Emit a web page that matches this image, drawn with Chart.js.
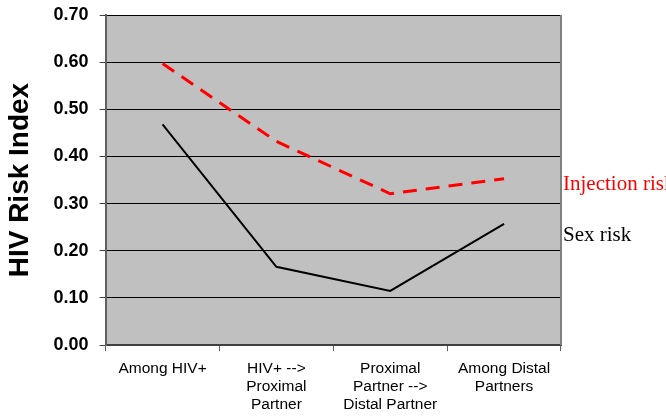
<!DOCTYPE html>
<html>
<head>
<meta charset="utf-8">
<script src="https://cdn.jsdelivr.net/npm/chart.js@4.4.0/dist/chart.umd.min.js"></script>
<style>
  body { margin: 0; background: #fff; }
  #wrap { width: 666px; height: 416px; }
</style>
</head>
<body>
<div id="wrap"><canvas id="graphique" width="666" height="416"></canvas></div>
<script>
// categories (multi-line labels)
const categories = [
  ["Among HIV+"],
  ["HIV+ -->", "Proximal", "Partner"],
  ["Proximal", "Partner -->", "Distal Partner"],
  ["Among Distal", "Partners"]
];
const injectionRisk = [0.597, 0.432, 0.321, 0.353];
const sexRisk = [0.468, 0.166, 0.115, 0.257];
const seriesNames = ["Injection risk", "Sex risk"];

// fond gris de la zone de tracé + bordure
const fondGris = {
  id: "fondGris",
  beforeDraw(chart) {
    const { ctx, chartArea: a } = chart;
    ctx.save();
    ctx.fillStyle = "#C0C0C0";
    ctx.fillRect(a.left, a.top, a.right - a.left, a.bottom - a.top);
    ctx.restore();
  },
  afterDraw(chart) {
    const { ctx, chartArea: a } = chart;
    ctx.save();
    ctx.strokeStyle = "#808080";
    ctx.lineWidth = 2;
    ctx.beginPath();
    ctx.moveTo(a.right, a.top);
    ctx.lineTo(a.right, a.bottom);
    ctx.stroke();
    // légendes à droite
    ctx.font = "21px 'Liberation Serif', 'Times New Roman', serif";
    ctx.textBaseline = "middle";
    ctx.textAlign = "left";
    ctx.fillStyle = "#FF0000";
    ctx.fillText(seriesNames[0], a.right + 2, a.top + 169);
    ctx.fillStyle = "#000000";
    ctx.fillText(seriesNames[1], a.right + 2, a.top + 220);
    ctx.restore();
  }
};

const config = {
  type: "line",
  data: {
    labels: categories,
    datasets: [
      {
        label: seriesNames[0],
        data: injectionRisk,
        borderColor: "#FF0000",
        borderWidth: 3,
        borderDash: [14, 9],
        pointRadius: 0,
        tension: 0,
        fill: false
      },
      {
        label: seriesNames[1],
        data: sexRisk,
        borderColor: "#000000",
        borderWidth: 2,
        pointRadius: 0,
        tension: 0,
        fill: false
      }
    ]
  },
  options: {
    responsive: false,
    animation: false,
    layout: { padding: { top: 15, right: 105, left: 3, bottom: -6 } },
    plugins: {
      legend: { display: false },
      tooltip: { enabled: false }
    },
    scales: {
      x: {
        offset: true,
        grid: {
          offset: true,
          drawOnChartArea: false,
          drawTicks: true,
          tickLength: 6,
          color: "#606060",
          lineWidth: 1
        },
        border: { display: true, color: "#404040", width: 2 },
        ticks: {
          color: "#000",
          font: { family: "'Liberation Sans', Arial, sans-serif", size: 15.5, lineHeight: 1.18 },
          maxRotation: 0,
          autoSkip: false,
          padding: 8
        }
      },
      y: {
        min: 0,
        max: 0.7,
        ticks: {
          stepSize: 0.1,
          color: "#000",
          font: { family: "'Liberation Sans', Arial, sans-serif", size: 18, weight: "bold", lineHeight: 0.3 },
          padding: 11,
          callback: (v) => v.toFixed(2)
        },
        grid: {
          color: "#000000",
          lineWidth: 1,
          tickLength: 6,
          tickColor: "#404040"
        },
        border: { display: true, color: "#606060", width: 2 },
        title: {
          display: true,
          text: "HIV Risk Index",
          color: "#000",
          font: { family: "'Liberation Sans', Arial, sans-serif", size: 28, weight: "bold" },
          padding: { top: 0, bottom: 6 }
        }
      }
    }
  },
  plugins: [fondGris]
};

new Chart(document.querySelector("#graphique"), config);
</script>
</body>
</html>
